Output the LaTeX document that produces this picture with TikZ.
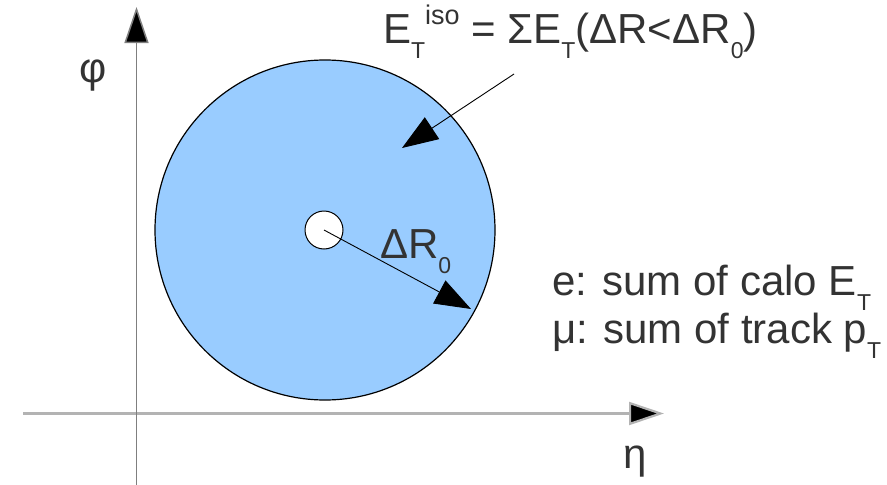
\documentclass[tikz,border=0pt]{standalone}
\usepackage{fontspec}
\setmainfont{Liberation Sans}
\usetikzlibrary{arrows.meta}
\definecolor{fillblue}{HTML}{99CCFF}
\definecolor{txtgrey}{HTML}{333333}
\definecolor{axisdark}{HTML}{7F7F7F}
\definecolor{axislight}{HTML}{B3B3B3}
\newcommand{\lo}[1]{\raisebox{-0.36em}{\fontsize{23}{23}\selectfont #1}}
\newcommand{\hi}[1]{\raisebox{0.44em}{\fontsize{27}{27}\selectfont #1}}
\begin{document}
\begin{tikzpicture}[x=1pt,y=-1pt,
  txt/.style={inner sep=0pt, outer sep=0pt, text=txtgrey, font=\fontsize{42}{47}\selectfont},
  bigdisc/.style={circle, draw=black, line width=1.2pt, fill=fillblue, minimum size=340pt, inner sep=0pt},
  smalldisc/.style={circle, draw=black, line width=1pt, fill=white, minimum size=38pt, inner sep=0pt},
  ptr/.style={draw=black, line width=0.9pt, -{Triangle[length=36pt,width=26pt]}},
  axv/.style={draw=axisdark, line width=1.5pt, -{Triangle[length=36pt,width=24pt,fill=black]}},
  axh/.style={draw=axislight, line width=2.2pt, -{Triangle[length=35pt,width=23pt,fill=black]}}
]
\useasboundingbox (0,0) rectangle (887,485);
% axes
\coordinate (vbot) at (136.5,485);
\coordinate (vtop) at (136.5,7);
\coordinate (hleft) at (23,413.5);
\coordinate (hright) at (664,413.5);
\draw[axh] (hleft) -- (hright);
\draw[axv] (vbot) -- (vtop);
% discs
\node[bigdisc] (big) at (325,230) {};
\node[smalldisc] (small) at (324,230) {};
% arrows
\coordinate (rtip) at (471,309);
\draw[ptr] (small.center) -- (rtip);
\coordinate (lstart) at (514,74);
\coordinate (ltip) at (402,148);
\draw[ptr] (lstart) -- (ltip);
% labels
\node[txt, anchor=base west] (formula) at (383,43) {E\lo{T}\hi{iso} = ΣE\lo{T}(ΔR<ΔR\lo{0})};
\node[txt, anchor=base west] (dr) at (380,258) {ΔR\lo{0}};
\node[txt, anchor=base] (phi) at (93,82) {φ};
\node[txt, anchor=base] (eta) at (635,468) {η};
\node[txt, anchor=base west] (eline) at (552,295) {e: sum of calo E\lo{T}};
\node[txt, anchor=base west] (muline) at (552,343) {μ: sum of track p\lo{T}};
\end{tikzpicture}
\end{document}
